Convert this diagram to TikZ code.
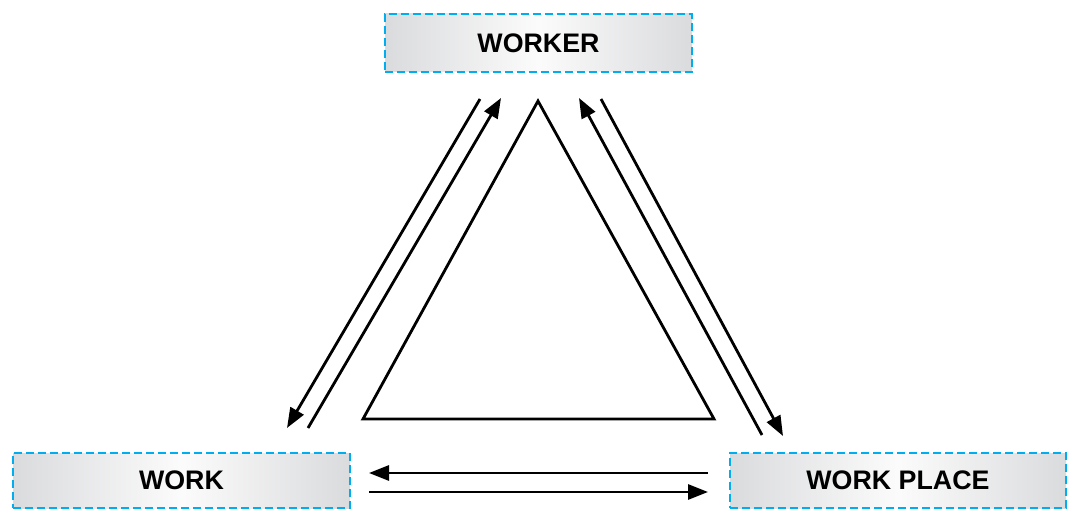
\documentclass[tikz,border=0pt]{standalone}
\usepackage{fontspec}
\setmainfont{Liberation Sans}
\usetikzlibrary{arrows.meta, shadings}
\usepackage{xcolor}
\definecolor{skyblue}{RGB}{0,174,239}
\definecolor{boxgray}{RGB}{218,219,221}

\begin{document}
\begin{tikzpicture}[x=1pt,y=-1pt]
	\tikzstyle{box} = [draw=skyblue,line width=2.6pt,dash pattern=on 8pt off 4pt,left color=boxgray,right color=boxgray,middle color=white!97!gray,font=\fontsize{26.8}{30}\selectfont\bfseries,inner sep=0pt]
	\tikzstyle{link} = [line width=2.8pt,-{Triangle[length=20pt,width=15pt]}]
	\tikzstyle{edge} = [line width=2.8pt]
	\useasboundingbox (0,0) rectangle (1067,510);
	\node[box,minimum width=307pt,minimum height=58pt] (worker) at (538.5,43) {WORKER};
	\node[box,minimum width=337pt,minimum height=55pt] (work) at (181.5,480.5) {WORK};
	\node[box,minimum width=336pt,minimum height=55pt] (place) at (898,480.5) {WORK PLACE};
	% arrow ends
	\coordinate (wl1) at (480,99);
	\coordinate (kl1) at (287,428);
	\coordinate (kl2) at (308,428);
	\coordinate (wl2) at (501,98);
	\coordinate (wr1) at (579,98);
	\coordinate (pr1) at (762,435);
	\coordinate (wr2) at (601,99);
	\coordinate (pr2) at (783,436);
	\coordinate (pb1) at (708,473);
	\coordinate (kb1) at (369,473);
	\coordinate (kb2) at (369,492);
	\coordinate (pb2) at (708,492);
	\draw[link] (wl1)--(kl1);
	\draw[link] (kl2)--(wl2);
	\draw[link] (pr1)--(wr1);
	\draw[link] (wr2)--(pr2);
	\draw[link] (pb1)--(kb1);
	\draw[link] (kb2)--(pb2);
	% triangle
	\draw[edge] (538,101)--(363,419)--(714,419)--cycle;
\end{tikzpicture}
\end{document}
